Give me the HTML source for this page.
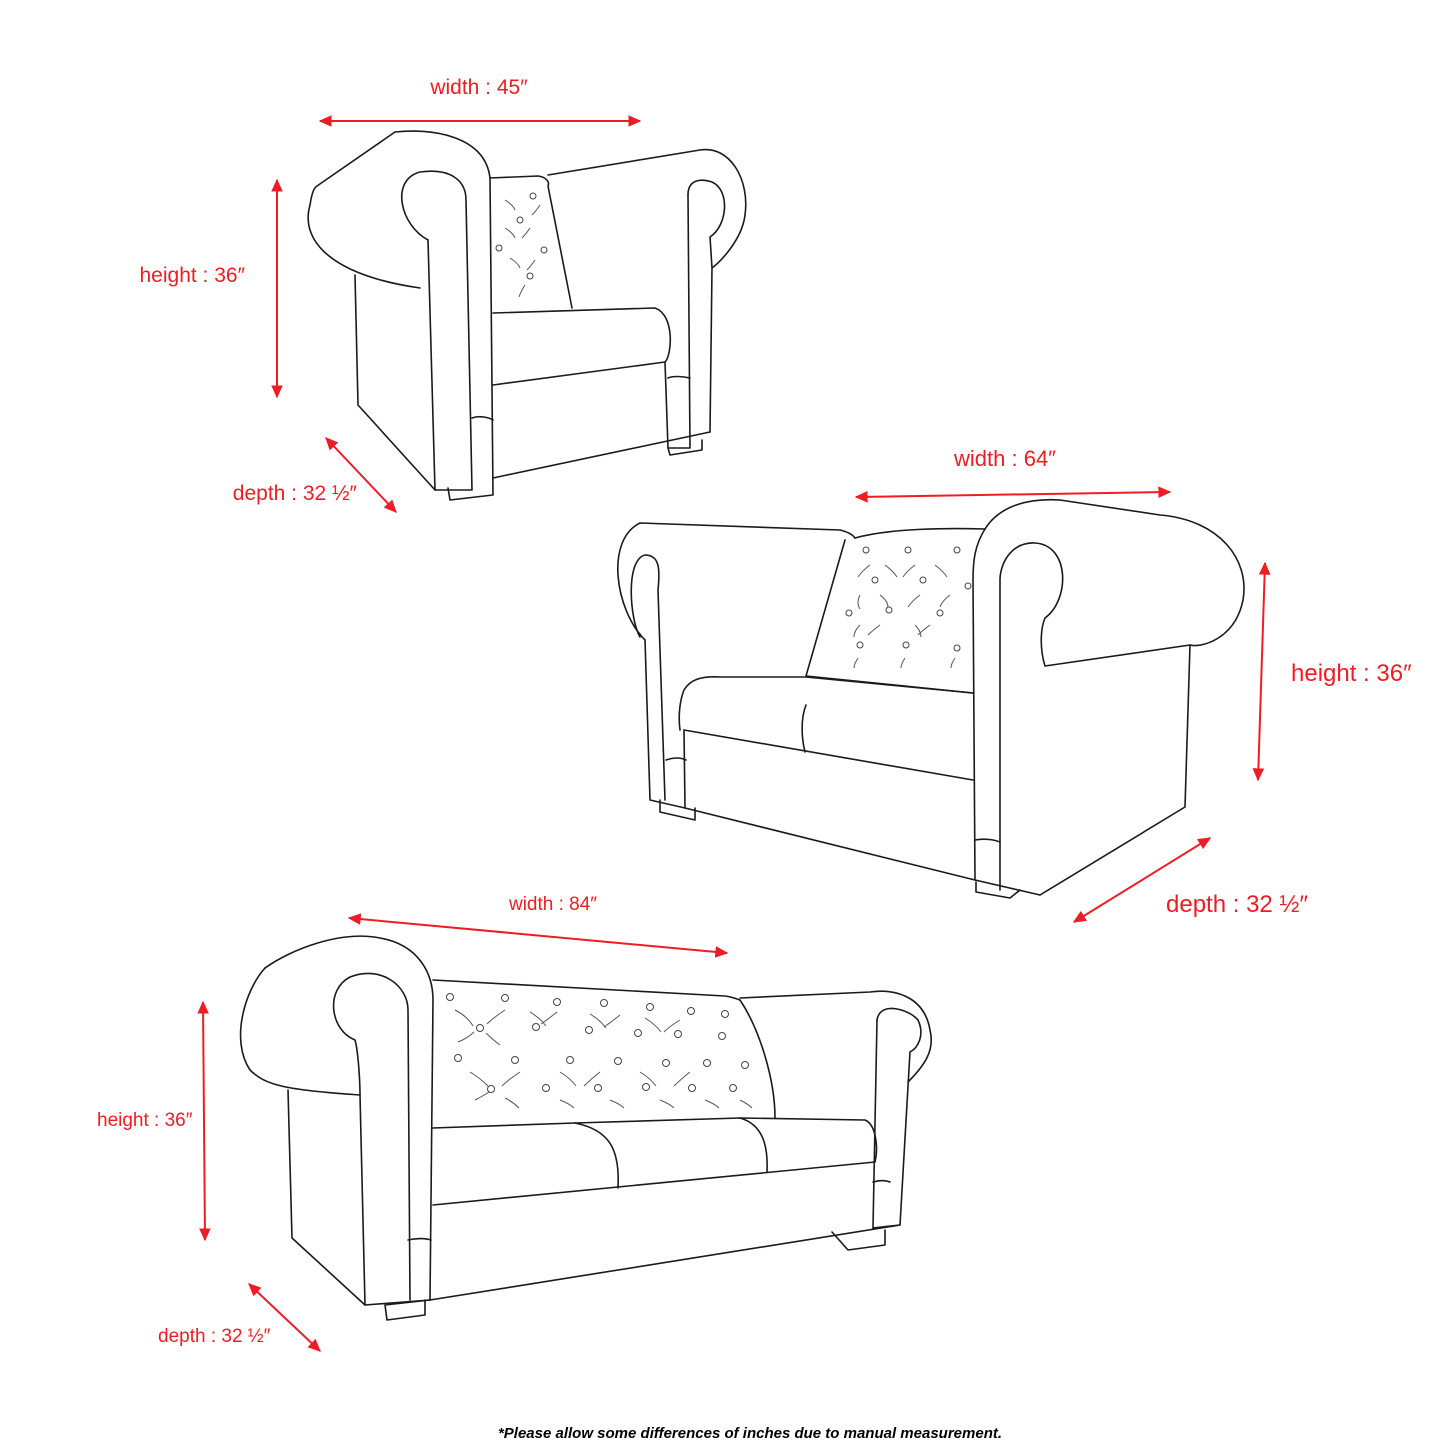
<!DOCTYPE html>
<html><head><meta charset="utf-8"><style>
html,body{margin:0;padding:0;background:#fff;}
svg{display:block}
.r{fill:#ee1c24;font-family:"Liberation Sans",sans-serif;}
</style></head><body>
<svg width="1445" height="1445" viewBox="0 0 1445 1445" xmlns="http://www.w3.org/2000/svg">
<defs>
<marker id="a" viewBox="0 0 10 10" refX="9" refY="5" markerWidth="13" markerHeight="13" orient="auto-start-reverse" markerUnits="userSpaceOnUse"><path d="M0,0.5 L10,5 L0,9.5 z" fill="#ee1c24"/></marker>
</defs>
<g stroke="#ee1c24" stroke-width="2" fill="none" marker-start="url(#a)" marker-end="url(#a)">
<line x1="320" y1="121" x2="640" y2="121"/>
<line x1="277" y1="180" x2="277" y2="397"/>
<line x1="326" y1="438" x2="396" y2="512"/>
<line x1="856" y1="497" x2="1170" y2="492"/>
<line x1="1265" y1="563" x2="1258" y2="780"/>
<line x1="1210" y1="838" x2="1074" y2="922"/>
<line x1="349" y1="918" x2="727" y2="953"/>
<line x1="203" y1="1002" x2="205" y2="1240"/>
<line x1="249" y1="1284" x2="320" y2="1351"/>
</g>
<g class="r">
<text x="479" y="94" font-size="21" text-anchor="middle">width : 45″</text>
<text x="245" y="282" font-size="21" text-anchor="end">height : 36″</text>
<text x="357" y="500" font-size="21" text-anchor="end">depth : 32 ½″</text>
<text x="1005" y="466" font-size="22" text-anchor="middle">width : 64″</text>
<text x="1291" y="681" font-size="24">height : 36″</text>
<text x="1166" y="912" font-size="24">depth : 32 ½″</text>
<text x="553" y="910" font-size="19" text-anchor="middle">width : 84″</text>
<text x="97" y="1126" font-size="19">height : 36″</text>
<text x="158" y="1342" font-size="19">depth : 32 ½″</text>
</g>
<text x="750" y="1438" font-size="15" font-weight="bold" font-style="italic" text-anchor="middle" font-family="Liberation Sans,sans-serif">*Please allow some differences of inches due to manual measurement.</text>

<g stroke="#1a1a1a" stroke-width="1.6" fill="none" stroke-linejoin="round" stroke-linecap="round">
<!-- chair -->
<path d="M420,288 C330,275 300,240 310,205 C312,192 314,188 317,186 L395,132 C430,128 485,135 490,178 L493,495 L450,500 L448,488"/>
<path d="M428,240 C400,225 390,180 420,172 C450,168 466,180 466,200 L472,490 L435,490 L428,240"/>
<path d="M355,275 L358,405 L435,490"/>
<path d="M493,478 L710,432"/>
<path d="M490,178 L538,176 C546,177 550,182 548,186 L572,308"/>
<path d="M548,175 L700,150 C730,145 750,180 745,215 C742,240 720,262 712,268 L710,432"/>
<path d="M688,195 C688,180 700,178 712,182 C730,190 728,225 710,237 L712,268"/>
<path d="M688,195 L690,448 L668,448 L665,362"/>
<path d="M493,313 L655,308 C675,315 672,355 665,362 L493,385"/>
<path d="M668,448 L670,455 L702,450 L702,440"/>
<path d="M472,418 C480,415 490,418 493,420"/>
<path d="M668,378 C675,375 685,377 690,378"/>
<!-- loveseat -->
<path d="M645,640 C615,610 605,540 640,523 L840,530 C848,532 853,535 855,538"/>
<path d="M640,637 C630,620 625,560 645,555 C660,555 660,570 658,590 L665,800"/>
<path d="M645,640 L650,800 L685,808"/>
<path d="M660,800 L660,812 L695,820 L695,808"/>
<path d="M855,538 C890,528 950,528 985,529"/>
<path d="M845,540 L806,676 L973,693"/>
<path d="M985,529 C1000,505 1030,498 1060,500 L1160,515 C1220,520 1250,560 1243,600 C1235,640 1200,648 1190,645 L1045,666 C1040,650 1040,630 1045,618 C1070,600 1070,545 1035,543 C1010,542 1000,565 1000,580 L1000,890"/>
<path d="M985,529 C975,545 973,560 973,580 L975,880 L1040,895"/>
<path d="M1190,645 L1185,807 L1040,895"/>
<path d="M685,808 L975,880"/>
<path d="M976,882 L976,892 L1010,898 L1020,890"/>
<path d="M680,730 C678,715 680,700 684,690 C690,680 700,676 720,677 L806,677 L973,693"/>
<path d="M684,730 L973,780"/>
<path d="M684,730 L685,808"/>
<path d="M806,705 C800,720 802,740 805,752"/>
<path d="M666,760 C675,757 682,758 686,760"/>
<path d="M975,840 C985,838 995,840 1000,842"/>
<!-- sofa -->
<path d="M265,968 C245,990 230,1040 250,1070 C265,1085 285,1090 360,1095"/>
<path d="M265,968 C290,950 340,930 380,938 C420,945 433,975 433,1000 L430,1300 L385,1305 L387,1320 L425,1315 L425,1300"/>
<path d="M360,1095 C360,1080 358,1050 355,1040 C330,1030 325,990 350,977 C380,965 408,985 408,1010 L410,1300"/>
<path d="M288,1090 L292,1238 L365,1305 L430,1300"/>
<path d="M360,1095 L365,1305"/>
<path d="M430,1300 L900,1225"/>
<path d="M433,980 L725,996 C732,997 737,999 740,1000 C760,1030 775,1080 775,1118"/>
<path d="M740,998 L870,992 C900,988 925,1000 930,1030 C935,1050 925,1065 908,1082"/>
<path d="M877,1020 C880,1000 910,1010 918,1020 C925,1035 918,1048 910,1052 L900,1225 L873,1228"/>
<path d="M877,1020 L873,1228"/>
<path d="M433,1128 L575,1123 L740,1118 L865,1120 C877,1125 878,1150 875,1162 L433,1205"/>
<path d="M575,1123 C610,1130 620,1150 618,1188"/>
<path d="M740,1118 C765,1125 768,1150 767,1172"/>
<path d="M832,1232 L848,1250 L885,1245 L885,1230"/>
<path d="M408,1240 C418,1238 425,1238 431,1240"/>
<path d="M873,1182 C880,1180 885,1180 890,1182"/>
</g>
<g stroke="#444" stroke-width="1" fill="none">
<circle cx="450" cy="997" r="3.5"/><circle cx="505" cy="998" r="3.5"/><circle cx="557" cy="1002" r="3.5"/><circle cx="604" cy="1003" r="3.5"/><circle cx="650" cy="1007" r="3.5"/><circle cx="691" cy="1011" r="3.5"/><circle cx="725" cy="1014" r="3.5"/>
<circle cx="480" cy="1028" r="3.5"/><circle cx="536" cy="1027" r="3.5"/><circle cx="589" cy="1030" r="3.5"/><circle cx="638" cy="1033" r="3.5"/><circle cx="678" cy="1034" r="3.5"/><circle cx="722" cy="1036" r="3.5"/>
<circle cx="458" cy="1058" r="3.5"/><circle cx="515" cy="1060" r="3.5"/><circle cx="570" cy="1060" r="3.5"/><circle cx="618" cy="1061" r="3.5"/><circle cx="666" cy="1063" r="3.5"/><circle cx="707" cy="1063" r="3.5"/><circle cx="745" cy="1065" r="3.5"/>
<circle cx="491" cy="1089" r="3.5"/><circle cx="546" cy="1088" r="3.5"/><circle cx="598" cy="1088" r="3.5"/><circle cx="646" cy="1087" r="3.5"/><circle cx="692" cy="1088" r="3.5"/><circle cx="733" cy="1088" r="3.5"/>
<circle cx="866" cy="550" r="3"/><circle cx="908" cy="550" r="3"/><circle cx="957" cy="550" r="3"/>
<circle cx="875" cy="580" r="3"/><circle cx="923" cy="580" r="3"/><circle cx="968" cy="586" r="3"/>
<circle cx="849" cy="613" r="3"/><circle cx="889" cy="610" r="3"/><circle cx="940" cy="613" r="3"/>
<circle cx="860" cy="645" r="3"/><circle cx="906" cy="645" r="3"/><circle cx="957" cy="648" r="3"/>
<circle cx="533" cy="196" r="3"/><circle cx="520" cy="220" r="3"/><circle cx="499" cy="248" r="3"/><circle cx="544" cy="250" r="3"/><circle cx="530" cy="276" r="3"/>
</g>
<g stroke="#555" stroke-width="1" fill="none">
<path d="M455,1010 q12,6 18,16 M505,1010 q-12,8 -18,14 M458,1042 q10,-4 16,-10 M500,1045 q-8,-6 -14,-12 M530,1012 q10,6 16,14 M557,1012 q-10,8 -16,12 M590,1014 q10,6 16,14 M620,1015 q-10,8 -16,12 M645,1018 q10,6 16,14 M680,1020 q-10,6 -16,12 M470,1072 q10,6 18,14 M520,1072 q-12,8 -18,14 M560,1072 q10,6 16,14 M600,1072 q-10,8 -16,14 M640,1072 q10,6 16,14 M690,1072 q-10,8 -16,14 M475,1100 q8,-4 14,-8 M505,1098 q8,4 14,10 M560,1100 q10,4 14,8 M610,1100 q10,4 14,8 M660,1100 q10,4 14,8 M705,1100 q10,4 14,8 M740,1100 q8,4 12,8"/>
<path d="M870,565 q-8,6 -12,12 M885,565 q8,6 12,12 M915,565 q-8,6 -12,12 M935,565 q8,6 12,12 M860,595 q-4,8 0,14 M880,595 q8,6 8,12 M920,595 q-8,6 -12,12 M950,595 q-8,6 -10,12 M860,625 q-6,6 -6,12 M880,625 q-8,6 -12,10 M915,625 q6,6 6,12 M930,625 q-8,6 -12,10 M858,658 q-4,6 -4,10 M905,658 q-4,6 -4,10 M955,658 q-4,6 -4,10"/>
<path d="M505,200 q8,5 10,10 M540,205 q-4,6 -8,10 M505,228 q8,5 10,10 M530,228 q-4,6 -8,10 M510,258 q8,5 10,10 M535,260 q-4,6 -8,10 M525,285 q-4,6 -6,12"/>
</g>
</svg>
</body></html>
